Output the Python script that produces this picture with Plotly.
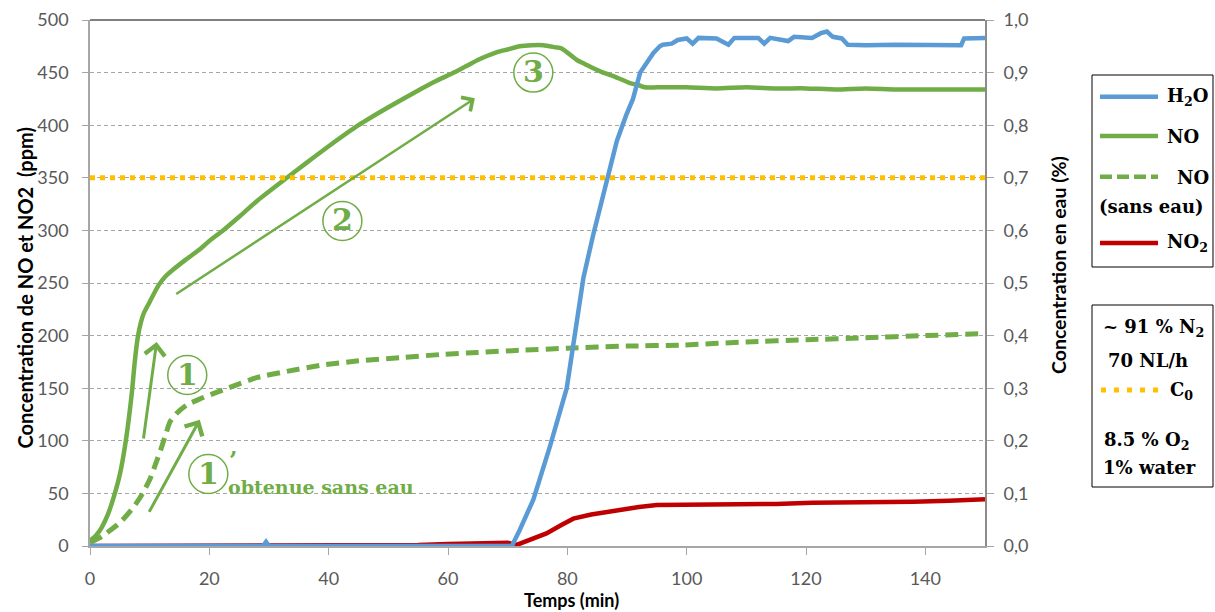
import plotly.graph_objects as go

# ---------------- data ----------------
t_no = [0, 1, 2, 3, 4, 5, 6, 7, 7.5, 8, 8.5, 9, 10, 11.5, 12.6, 14, 16, 18.4, 20,
        22.3, 25, 28, 33, 36, 40, 45, 50, 55, 58, 61, 63, 65, 68, 70, 72, 74, 76, 78, 79,
        80, 81.6, 83, 84, 86, 87, 88, 90.5, 92, 93, 95, 97, 100, 105, 110, 115, 120, 125, 130, 135,
        140, 145, 150]
no = [5, 10, 18, 30, 47, 68, 100, 145, 175, 198, 212, 221, 232, 248, 256, 263, 272, 282, 290,
      300, 313, 328, 350, 363, 380, 400, 417, 433, 442, 450, 456, 462, 469, 472, 475, 476, 476, 474, 473,
      469, 462, 458, 455, 450, 448, 446, 440, 438, 436, 436, 436, 436, 435, 436, 435, 435, 434, 435, 434,
      434, 434, 434]

t_ns = [0, 2, 3.4, 5, 7.3, 8.5, 10, 11, 12, 12.8, 13.4, 14.5, 16.2, 18.5, 21.2, 24, 27.9, 33, 39, 45,
        52, 58.7, 65, 72, 80, 90, 99, 110, 120, 130, 140, 150]
no_sans_eau = [3, 9, 15, 22, 37, 47, 63, 78, 94, 108, 118, 126, 134, 140, 146, 152, 160, 166, 172, 176,
               179, 182, 184, 186, 188, 190, 191, 194, 196, 198, 200, 202]

t_h2o = [0, 29, 29.5, 30, 70.7, 72, 74.3, 77.1, 79.9, 81.3, 82.7, 84.3, 86.6, 88.3, 89.9, 91, 92.2, 94.4, 95.5,
         96, 97.5, 98.5, 100, 101, 102, 105, 107, 108, 112, 113, 114, 117, 118, 121, 122.5, 123.5, 124.5,
         126, 127, 130, 135, 140, 146, 146.5, 150]
h2o = [0, 0, 0.008, 0, 0, 0.03, 0.088, 0.19, 0.30, 0.40, 0.51, 0.59, 0.69, 0.77, 0.82, 0.85, 0.90, 0.937, 0.95,
       0.953, 0.955, 0.962, 0.965, 0.955, 0.966, 0.965, 0.953, 0.966, 0.966, 0.955, 0.966, 0.96, 0.968, 0.966,
       0.975, 0.978, 0.968, 0.965, 0.953, 0.952, 0.953, 0.952, 0.952, 0.965, 0.966]

t_no2 = [0, 50, 55, 60, 65, 70, 71.5, 74, 76.5, 79, 81, 84, 87, 89.4, 92, 95, 100, 105, 110, 115,
         121, 126, 132, 138, 144, 150]
no2 = [0, 0, 1, 2, 2, 3, 1, 6, 12, 20, 26, 30, 33, 35, 37, 39, 39, 39, 39, 40,
       41, 41, 42, 42, 43, 44.5]

c0_t = [0, 150]
c0 = [350, 350]

x_ticks = [0, 20, 40, 60, 80, 100, 120, 140]

# ---------------- styling ----------------
GREEN = "#70AD47"
BLUE = "#5B9BD5"
RED = "#C00000"
ORANGE = "#FFC000"
AX = "#A6A6A6"
TICKC = "#595959"
SERIF = "DejaVu Serif"

# plot-area corners in window pixels
L, R, T, B = 90, 985, 20, 546
W, H = 1215, 612


def px(xp):
    return (xp - L) / (R - L)


def py(yp):
    return (B - yp) / (B - T)


fig = go.Figure()
fig.add_trace(go.Scatter(x=t_no2, y=no2, mode="lines", line=dict(color=RED, width=4.5), showlegend=False))
fig.add_trace(go.Scatter(x=t_ns, y=no_sans_eau, mode="lines",
                         line=dict(color=GREEN, width=5, dash="13px,7px", shape="spline", smoothing=0.6),
                         showlegend=False))
fig.add_trace(go.Scatter(x=t_no, y=no, mode="lines",
                         line=dict(color=GREEN, width=4.5, shape="spline", smoothing=0.6), showlegend=False))
fig.add_trace(go.Scatter(x=c0_t, y=c0, mode="lines", line=dict(color=ORANGE, width=5, dash="5px,5px"),
                         showlegend=False))
fig.add_trace(go.Scatter(x=t_h2o, y=h2o, mode="lines", yaxis="y2",
                         line=dict(color=BLUE, width=4.5), showlegend=False))

tickfont = dict(family="Lato", size=18, color=TICKC)
fig.update_layout(
    width=W, height=H,
    margin=dict(l=L, r=W - R, t=T, b=H - B, autoexpand=False),
    paper_bgcolor="white", plot_bgcolor="white",
    separators=", ",
    xaxis=dict(range=[0, 150], tickvals=x_ticks, ticks="outside", ticklen=7, tickcolor=AX,
               showline=True, linecolor=AX, linewidth=1.5, showgrid=False, zeroline=False,
               tickfont=tickfont, automargin=False, ticklabelstandoff=9),
    yaxis=dict(range=[0, 500], dtick=50, tick0=0, ticks="outside", ticklen=6, tickcolor=AX,
               showline=True, linecolor=AX, linewidth=1.5, showgrid=True, gridcolor=AX,
               griddash="4px,3px", gridwidth=1, zeroline=False, tickfont=tickfont, automargin=False,
               ticklabelstandoff=10),
    yaxis2=dict(range=[0, 1], dtick=0.1, tick0=0, tickformat=".1f", overlaying="y", side="right",
                ticks="outside", ticklen=7, tickcolor=AX, showline=True, linecolor="#8C8C8C",
                linewidth=2, showgrid=False, zeroline=False, tickfont=tickfont, automargin=False,
                ticklabelstandoff=6),
)

shapes = []
annotations = []


def txt(text, x, y, font, xanchor="center", ref="paper", **kw):
    d = dict(text=text, x=x, y=y, xref=ref, yref=ref, showarrow=False, font=font,
             xanchor=xanchor, yanchor="middle")
    d.update(kw)
    annotations.append(d)


# top border
shapes.append(dict(type="line", xref="paper", yref="paper", x0=0, x1=1, y0=1, y1=1,
                   line=dict(color="black", width=1)))

# axis titles
txt("<b>Temps (min)</b>", px(571), py(600), dict(family="Lato", size=18, color="black"))
txt("<b>Concentration de NO et NO2  (ppm)</b>", px(24), py(288.5), dict(family="Lato", size=20, color="black"),
    textangle=-90)
txt("<b>Concentration en eau (%)</b>", px(1058), py(265), dict(family="Lato", size=19.5, color="black"),
    textangle=-90)

# arrows (tail -> head in data coordinates)
arrows = [((8.93, 100.8), (11.17, 194), 3), ((9.78, 31), (18.4, 120), 3), ((14.2, 238.6), (64.5, 425.5), 2.5)]
for (tx, ty), (hx, hy), w in arrows:
    annotations.append(dict(x=hx, y=hy, ax=tx, ay=ty, xref="x", yref="y", axref="x", ayref="y",
                            showarrow=True, arrowhead=4, arrowsize=1.3, arrowwidth=w, arrowcolor=GREEN,
                            text=""))

# circled numbers
circles = [("1", 16.3, 162.5), ("1", 19.83, 68.4), ("2", 42.3, 309), ("3", 74.3, 450)]
for lab, cx, cy in circles:
    shapes.append(dict(type="circle", xref="x", yref="y", xsizemode="pixel", ysizemode="pixel",
                       xanchor=cx, yanchor=cy, x0=-19.5, x1=19.5, y0=-19.5, y1=19.5,
                       line=dict(color=GREEN, width=1.5)))
    txt("<b>%s</b>" % lab, cx, cy, dict(family=SERIF, size=30, color=GREEN), ref="x")
    annotations[-1].update(xref="x", yref="y", yshift=1)
txt("<b>’</b>", px(233), py(460), dict(family=SERIF, size=24, color=GREEN))
txt("<b>obtenue sans eau</b>", px(226), py(487), dict(family=SERIF, size=19, color=GREEN), xanchor="left")

# legend box 1
shapes.append(dict(type="rect", xref="paper", yref="paper", x0=px(1092), x1=px(1213), y0=py(75), y1=py(267),
                   line=dict(color="black", width=1)))
leg = [(96.7, BLUE, "solid"), (136, GREEN, "solid"), (176.7, GREEN, "12px,5px"), (243, RED, "solid")]
for yy, col, dash in leg:
    shapes.append(dict(type="line", xref="paper", yref="paper", x0=px(1100), x1=px(1158), y0=py(yy), y1=py(yy),
                       line=dict(color=col, width=4.5, dash=dash)))
lfont = dict(family=SERIF, size=18, color="black")
txt("<b>H<sub>2</sub>O</b>", px(1165), py(97), lfont, xanchor="left")
txt("<b>NO</b>", px(1165), py(136), lfont, xanchor="left")
txt("<b>NO</b>", px(1175), py(177), lfont, xanchor="left")
txt("<b>(sans eau)</b>", px(1151), py(206), lfont)
txt("<b>NO<sub>2</sub></b>", px(1165), py(243), lfont, xanchor="left")

# legend box 2
shapes.append(dict(type="rect", xref="paper", yref="paper", x0=px(1092), x1=px(1213), y0=py(305), y1=py(487),
                   line=dict(color="black", width=1)))
shapes.append(dict(type="line", xref="paper", yref="paper", x0=px(1101), x1=px(1158), y0=py(390), y1=py(390),
                   line=dict(color=ORANGE, width=5, dash="5px,8px")))
txt("<b>~ 91 % N<sub>2</sub></b>", px(1101), py(328), lfont, xanchor="left")
txt("<b>70 NL/h</b>", px(1106), py(360), lfont, xanchor="left")
txt("<b>C<sub>0</sub></b>", px(1168), py(391), lfont, xanchor="left")
txt("<b>8.5 % O<sub>2</sub></b>", px(1102), py(441), lfont, xanchor="left")
txt("<b>1% water</b>", px(1101), py(467), lfont, xanchor="left")

fig.update_layout(shapes=shapes, annotations=annotations)
fig.write_html("out.html", config={"displayModeBar": False},
               post_script="document.body.style.margin='0';document.body.style.overflow='hidden';")
